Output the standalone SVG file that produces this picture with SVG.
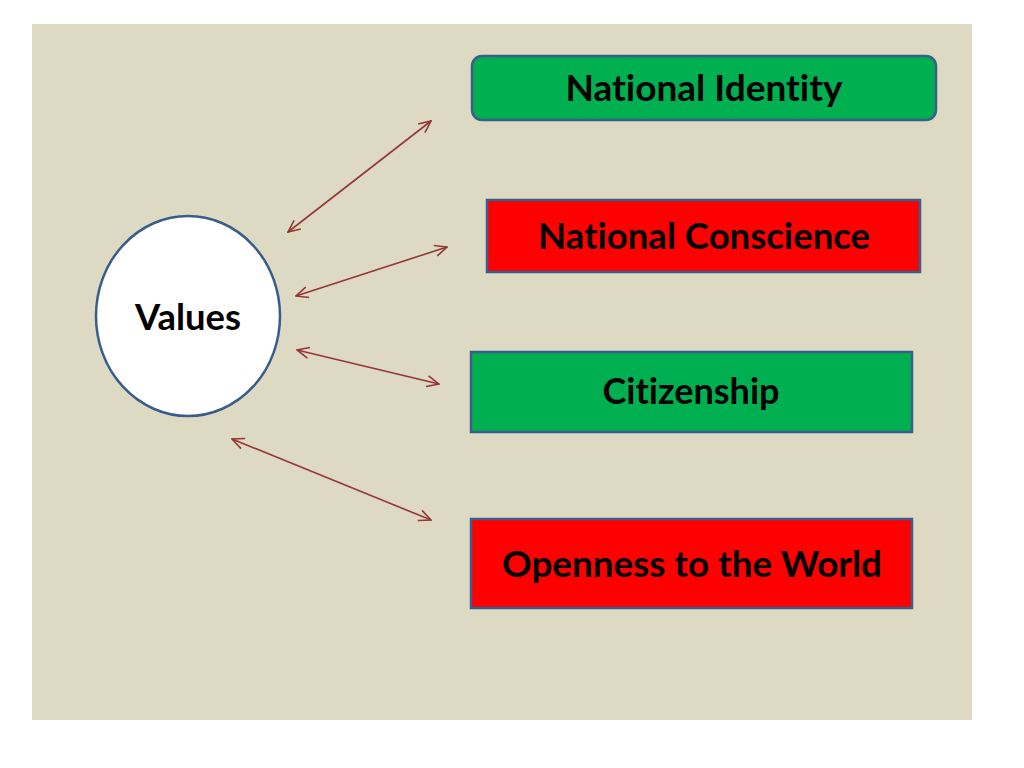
<svg xmlns="http://www.w3.org/2000/svg" width="1024" height="768" viewBox="0 0 1024 768">
<defs>
<style>
.box{stroke:#3B5F8C;stroke-width:2.5}
.green{fill:#00B050}
.red{fill:#FF0000}
.lbl{font-family:Lato,"Open Sans","Liberation Sans",sans-serif;font-weight:700;font-size:37px;fill:#000;text-anchor:middle;font-variant-ligatures:none}
.conn{stroke:#953735;stroke-width:1.6;fill:none;marker-start:url(#ah);marker-end:url(#ah)}
</style>
<marker id="ah" viewBox="0 0 14 14" refX="13" refY="7" markerWidth="14" markerHeight="14" markerUnits="userSpaceOnUse" orient="auto-start-reverse">
<path d="M1,1.5 L13,7 L1,12.5" fill="none" stroke="#953735" stroke-width="1.6"/>
</marker>
</defs>
<rect x="0" y="0" width="1024" height="768" fill="#FFFFFF"/>
<rect x="32" y="24" width="940" height="696" fill="#DDD9C3"/>
<g id="connectors">
<line class="conn" x1="288" y1="232" x2="431" y2="121"/>
<line class="conn" x1="296" y1="296" x2="447" y2="247"/>
<line class="conn" x1="297" y1="350" x2="439" y2="384"/>
<line class="conn" x1="232" y1="439" x2="431" y2="520"/>
</g>
<g id="values">
<ellipse cx="188" cy="316" rx="92" ry="100" fill="#FFFFFF" stroke="#385D8A" stroke-width="2.5"/>
<text class="lbl" x="188" y="330" textLength="106" lengthAdjust="spacingAndGlyphs">Values</text>
</g>
<g id="national-identity">
<rect class="box green" x="472" y="56" width="464" height="64" rx="10"/>
<text class="lbl" x="704" y="101" textLength="277" lengthAdjust="spacingAndGlyphs">National Identity</text>
</g>
<g id="national-conscience">
<rect class="box red" x="487" y="200" width="433" height="72"/>
<text class="lbl" x="704" y="249" textLength="332" lengthAdjust="spacingAndGlyphs">National Conscience</text>
</g>
<g id="citizenship">
<rect class="box green" x="471" y="352" width="441" height="80"/>
<text class="lbl" x="691" y="404" textLength="177" lengthAdjust="spacingAndGlyphs">Citizenship</text>
</g>
<g id="openness">
<rect class="box red" x="471" y="519" width="441" height="89"/>
<text class="lbl" x="692" y="577" textLength="380" lengthAdjust="spacingAndGlyphs">Openness to the World</text>
</g>
</svg>
